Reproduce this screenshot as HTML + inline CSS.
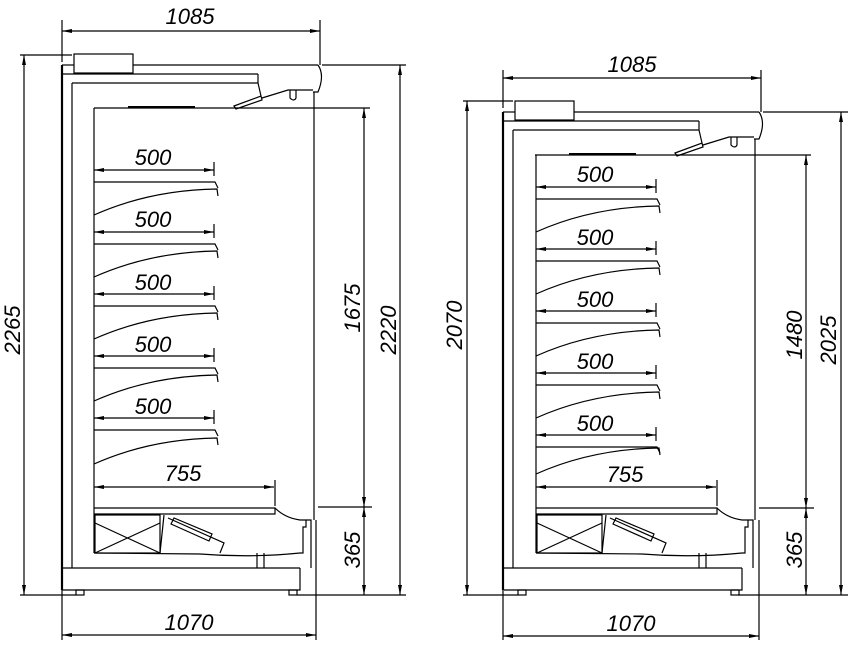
<!DOCTYPE html>
<html><head><meta charset="utf-8"><style>
html,body{margin:0;padding:0;background:#fff;}
svg{display:block;}
text{font-family:"Liberation Sans",sans-serif;font-style:italic;font-size:22px;fill:#000;}
</style></head><body>
<svg width="854" height="647" viewBox="0 0 854 647" xmlns="http://www.w3.org/2000/svg">
<defs>
<marker id="a" viewBox="0 0 10 6" refX="10" refY="3" markerWidth="10" markerHeight="6" orient="auto-start-reverse" markerUnits="userSpaceOnUse"><path d="M0,1 L10,3 L0,5z" fill="#000"/></marker>
<g id="dim5" fill="none" stroke="#000" stroke-width="1.2">
 <line x1="94" y1="0" x2="214" y2="0" marker-start="url(#a)" marker-end="url(#a)"/>
 <line x1="214" y1="-8" x2="214" y2="6"/>
 <path d="M94,12 H215 L218,18"/>
</g>
<g id="curve" fill="none" stroke="#000" stroke-width="1.2">
 <path d="M94,0 Q150,-25 217,-26 L218,-19"/>
</g>
<g id="upper" fill="none" stroke="#000" stroke-width="1.2">
 <rect x="74" y="54" width="59" height="19"/>
 <line x1="62" y1="65" x2="74" y2="65"/>
 <line x1="133" y1="65" x2="318" y2="65"/>
 <line x1="62" y1="74" x2="258" y2="74"/>
 <path d="M72,83 H258 V74 M258,83 L261,96"/>
 <path d="M234,106 L261,96 L262,100 L236,109z"/>
 <path d="M262,98 L288,90 H313"/>
 <path d="M290,90 V98 Q294,102 296,98 V90"/>
 <path d="M318,65 Q325,75 318,92 L313,92"/>
 <line x1="94" y1="108" x2="370" y2="108"/>
 <line x1="128" y1="107" x2="195" y2="107" stroke-width="2"/>
</g>
<g id="lower" fill="none" stroke="#000" stroke-width="1.2">
 <line x1="94" y1="487" x2="274" y2="487" marker-start="url(#a)" marker-end="url(#a)"/>
 <line x1="275" y1="480" x2="275" y2="506"/>
 <path d="M94,514 H275 V508 H94"/>
 <path d="M275,508 Q285,518 300,520 H311 V568"/>
 <path d="M306,520 V527 H303 V553 H300 Q250,558 200,554 L94,553"/>
 <rect x="95" y="515" width="65" height="38"/>
 <path d="M95,523 L160,553 M95,553 L160,523"/>
 <path d="M164,515 L160,553 M168,518 L224,543 L220,553"/>
 <path d="M171,524 L174,518 L212,534 L209,541z"/>
 <path d="M62,568 H300 M62,590 H300 V568"/>
 <path d="M257,553 V568 M264,553 V568"/>
 <rect x="76" y="590" width="8" height="5"/>
 <rect x="289" y="590" width="8" height="5"/>
</g>
</defs>

<!-- LEFT UNIT -->
<use href="#upper"/>
<g fill="none" stroke="#000" stroke-width="1.2">
 <line x1="62" y1="65" x2="62" y2="590" stroke-width="2.2"/>
 <line x1="72" y1="83" x2="72" y2="568"/>
 <line x1="94" y1="108" x2="94" y2="553"/>
 <line x1="314" y1="92" x2="314" y2="520"/>
 <line x1="62" y1="20" x2="62" y2="62"/>
 <line x1="320" y1="20" x2="320" y2="65"/>
 <line x1="62" y1="31" x2="320" y2="31" marker-start="url(#a)" marker-end="url(#a)"/>
 <line x1="20" y1="55" x2="72" y2="55"/>
 <line x1="20" y1="595" x2="76" y2="595"/>
 <line x1="24" y1="55" x2="24" y2="595" marker-start="url(#a)" marker-end="url(#a)"/>
 <line x1="322" y1="65" x2="406" y2="65"/>
 <line x1="400" y1="65" x2="400" y2="595" marker-start="url(#a)" marker-end="url(#a)"/>
 <line x1="364" y1="108" x2="364" y2="507" marker-start="url(#a)" marker-end="url(#a)"/>
 <line x1="364" y1="507" x2="364" y2="595" marker-start="url(#a)" marker-end="url(#a)"/>
 <line x1="318" y1="507" x2="372" y2="507"/>
 <line x1="297" y1="595" x2="406" y2="595"/>
 <line x1="62" y1="590" x2="62" y2="640"/>
 <line x1="316" y1="520" x2="316" y2="640"/>
 <line x1="62" y1="635" x2="316" y2="635" marker-start="url(#a)" marker-end="url(#a)"/>
</g>
<use href="#dim5" y="170"/><use href="#dim5" y="232"/><use href="#dim5" y="294"/><use href="#dim5" y="356"/><use href="#dim5" y="418"/>
<use href="#curve" y="215"/><use href="#curve" y="277"/><use href="#curve" y="339"/><use href="#curve" y="401"/><use href="#curve" y="464"/>
<use href="#lower"/>
<text x="190" y="24" text-anchor="middle">1085</text>
<text x="153" y="165" text-anchor="middle">500</text>
<text x="153" y="227" text-anchor="middle">500</text>
<text x="153" y="290" text-anchor="middle">500</text>
<text x="153" y="352" text-anchor="middle">500</text>
<text x="153" y="414" text-anchor="middle">500</text>
<text x="183" y="481" text-anchor="middle">755</text>
<text x="189" y="630" text-anchor="middle">1070</text>
<text transform="translate(20,330) rotate(-90)" text-anchor="middle">2265</text>
<text transform="translate(360,308) rotate(-90)" text-anchor="middle">1675</text>
<text transform="translate(396,330) rotate(-90)" text-anchor="middle">2220</text>
<text transform="translate(360,550) rotate(-90)" text-anchor="middle">365</text>

<!-- RIGHT UNIT -->
<g transform="translate(441,47)"><use href="#upper"/></g>
<g fill="none" stroke="#000" stroke-width="1.2">
 <line x1="503" y1="112" x2="503" y2="590" stroke-width="2.2"/>
 <line x1="513" y1="130" x2="513" y2="568"/>
 <line x1="536" y1="155" x2="536" y2="553"/>
 <line x1="755" y1="139" x2="755" y2="520"/>
 <line x1="503" y1="70" x2="503" y2="108"/>
 <line x1="761" y1="70" x2="761" y2="112"/>
 <line x1="503" y1="78" x2="761" y2="78" marker-start="url(#a)" marker-end="url(#a)"/>
 <line x1="463" y1="101" x2="513" y2="101"/>
 <line x1="463" y1="595" x2="518" y2="595"/>
 <line x1="467" y1="101" x2="467" y2="595" marker-start="url(#a)" marker-end="url(#a)"/>
 <line x1="763" y1="112" x2="848" y2="112"/>
 <line x1="841" y1="112" x2="841" y2="595" marker-start="url(#a)" marker-end="url(#a)"/>
 <line x1="806" y1="155" x2="806" y2="508" marker-start="url(#a)" marker-end="url(#a)"/>
 <line x1="806" y1="508" x2="806" y2="595" marker-start="url(#a)" marker-end="url(#a)"/>
 <line x1="759" y1="508" x2="814" y2="508"/>
 <line x1="738" y1="595" x2="848" y2="595"/>
 <line x1="503" y1="590" x2="503" y2="640"/>
 <line x1="759" y1="520" x2="759" y2="640"/>
 <line x1="503" y1="636" x2="759" y2="636" marker-start="url(#a)" marker-end="url(#a)"/>
</g>
<g transform="translate(442,0)">
<use href="#dim5" y="187"/><use href="#dim5" y="249"/><use href="#dim5" y="311"/><use href="#dim5" y="373"/><use href="#dim5" y="435"/>
<use href="#curve" y="232"/><use href="#curve" y="294"/><use href="#curve" y="356"/><use href="#curve" y="418"/><use href="#curve" y="474"/>
<use href="#lower"/>
</g>
<text x="632" y="72" text-anchor="middle">1085</text>
<text x="595" y="182" text-anchor="middle">500</text>
<text x="595" y="245" text-anchor="middle">500</text>
<text x="595" y="307" text-anchor="middle">500</text>
<text x="595" y="369" text-anchor="middle">500</text>
<text x="595" y="431" text-anchor="middle">500</text>
<text x="625" y="482" text-anchor="middle">755</text>
<text x="631" y="631" text-anchor="middle">1070</text>
<text transform="translate(462,325) rotate(-90)" text-anchor="middle">2070</text>
<text transform="translate(802,335) rotate(-90)" text-anchor="middle">1480</text>
<text transform="translate(836,340) rotate(-90)" text-anchor="middle">2025</text>
<text transform="translate(802,550) rotate(-90)" text-anchor="middle">365</text>
</svg>
</body></html>
